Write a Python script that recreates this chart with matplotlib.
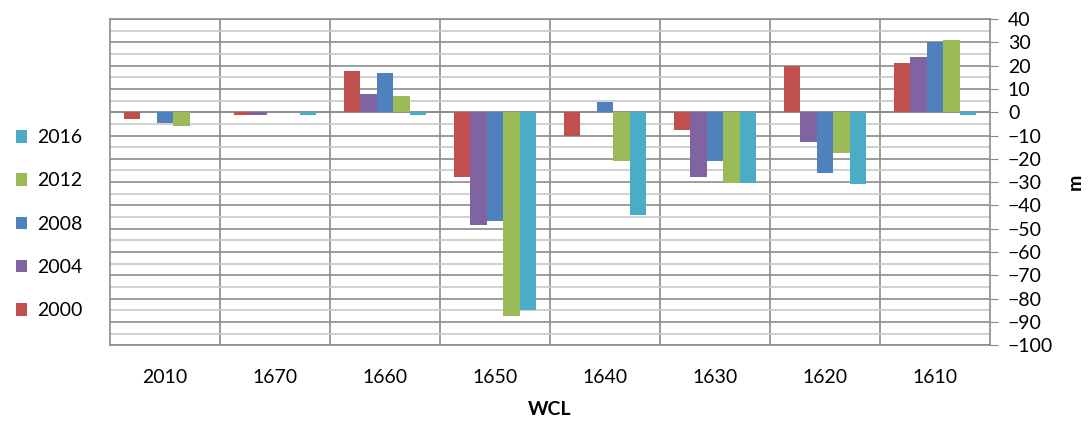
import numpy as np
import matplotlib
matplotlib.use("Agg")
import matplotlib.pyplot as plt
from matplotlib.patches import Patch

# data
categories = ["2010", "1670", "1660", "1650", "1640", "1630", "1620", "1610"]
years = ["2000", "2004", "2008", "2012", "2016"]
v2000 = [-3.0, -1.0, 17.5, -28.0, -10.0, -7.5, 20.0, 21.3]
v2004 = [0.0, -1.0, 8.0, -48.5, 0.0, -28.0, -13.0, 23.5]
v2008 = [-4.5, 0.0, 17.0, -46.5, 4.5, -21.0, -26.0, 30.3]
v2012 = [-6.0, 0.0, 7.0, -87.5, -21.0, -30.3, -17.5, 31.2]
v2016 = [0.0, -1.0, -1.0, -85.0, -44.0, -30.3, -31.0, -1.0]
series = [v2000, v2004, v2008, v2012, v2016]
colors = ["#C0504D", "#8064A2", "#4F81BD", "#9BBB59", "#4BACC6"]

plt.rcParams["font.family"] = ["Lato", "DejaVu Sans"]

fig = plt.figure(figsize=(10.89, 4.23), dpi=100)
ax = fig.add_axes([0.101, 0.184, 0.808, 0.771])

x = np.arange(len(categories))
bw = 0.15
for i, (vals, c) in enumerate(zip(series, colors)):
    ax.bar(x + (i - 2) * bw, vals, width=bw, color=c, edgecolor="none", zorder=3)

ax.set_xlim(-0.5, len(categories) - 0.5)
ax.set_ylim(-100, 40)

ax.yaxis.tick_right()
ax.yaxis.set_label_position("right")
ax.set_yticks(np.arange(-100, 41, 10))
ax.set_yticks(np.arange(-95, 40, 10), minor=True)
ax.tick_params(axis="y", which="major", length=6, color="#868686", labelsize=14, pad=7)
ax.tick_params(axis="y", which="minor", length=0)

ax.set_xticks(x)
ax.set_xticklabels(categories)
ax.set_xticks(np.arange(0.5, len(categories) - 0.5, 1), minor=True)
ax.tick_params(axis="x", which="both", length=0, labelsize=14, pad=17)

ax.grid(axis="y", which="major", color="#8c8c8c", linewidth=1.2, zorder=0)
ax.grid(axis="y", which="minor", color="#c8c8c8", linewidth=1.2, zorder=0)
ax.grid(axis="x", which="minor", color="#8c8c8c", linewidth=1.2, zorder=0)
ax.axhline(0, color="#8c8c8c", linewidth=1.2, zorder=1)
for s in ax.spines.values():
    s.set_color("#8c8c8c")
    s.set_linewidth(1.2)

ax.set_xlabel("WCL", fontsize=14, fontweight="bold", labelpad=11)
ax.set_ylabel("m", fontsize=14, fontweight="bold", labelpad=10)

handles = [Patch(facecolor=c, edgecolor="none") for c in colors][::-1]
fig.legend(handles, years[::-1], loc="center left", bbox_to_anchor=(0.0, 0.47),
           frameon=False, fontsize=14, handlelength=0.6, handleheight=0.6,
           handletextpad=0.5, labelspacing=1.35, borderaxespad=0.4)

fig.savefig("out.png", dpi=100)
